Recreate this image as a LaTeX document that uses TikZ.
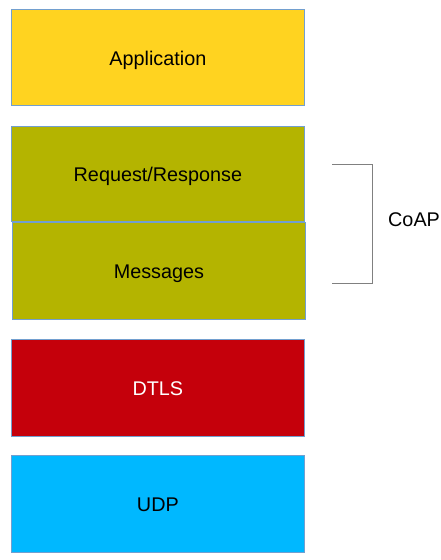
\documentclass[tikz,border=0pt]{standalone}
\usepackage{fontspec}
\setmainfont{Liberation Sans}
\definecolor{appyellow}{HTML}{FFD320}
\definecolor{coapolive}{HTML}{B4B400}
\definecolor{dtlsred}{HTML}{C5000B}
\definecolor{udpblue}{HTML}{00B8FF}
\definecolor{edgeblue}{HTML}{729FCF}
\definecolor{brgray}{HTML}{808080}
\begin{document}
\begin{tikzpicture}[x=1pt,y=-1pt,
  layer/.style={draw=edgeblue, line width=0.8pt, anchor=north west, inner sep=0pt,
    minimum width=293pt, minimum height=96pt, text height=15.5pt, text depth=0pt,
    font=\fontsize{19.8pt}{23pt}\selectfont, text=black},
  lbl/.style={font=\fontsize{19.8pt}{23pt}\selectfont, text=black, inner sep=0pt}]
\useasboundingbox (0,0) rectangle (441,560);
\node[layer, fill=appyellow] (app) at (11,9) {Application};
\node[layer, fill=coapolive, minimum height=95pt] (req) at (11,126) {Request/Response};
\node[layer, fill=coapolive, minimum height=97pt] (msg) at (12,222) {Messages};
\node[layer, fill=dtlsred, minimum height=97pt, text=white] (dtls) at (11,339) {DTLS};
\node[layer, fill=udpblue, minimum height=97pt] (udp) at (11,455) {UDP};
\coordinate (bt) at (332,164.5);
\coordinate (bb) at (332,283);
\draw[brgray, line width=1pt] (bt) -- (372,164.5) -- (372,283) -- (bb);
\node[lbl, anchor=west] (coap) at (388,220) {CoAP};
\end{tikzpicture}
\end{document}
